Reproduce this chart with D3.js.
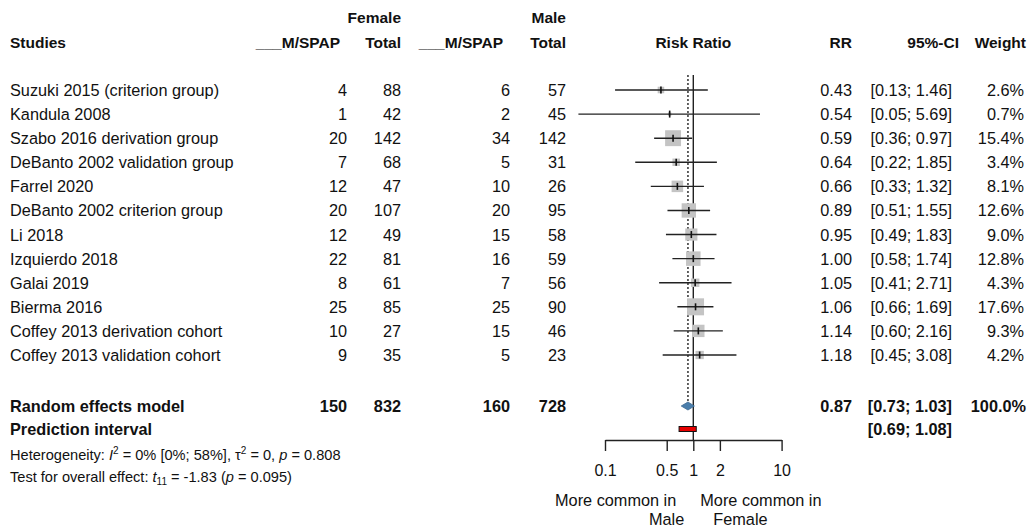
<!DOCTYPE html>
<html>
<head>
<meta charset="utf-8">
<script src="https://cdn.jsdelivr.net/npm/d3@7"></script>
<style>
  body { margin: 0; background: #fff; }
  svg text { font-family: "Liberation Sans", Arial, sans-serif; fill: #111; }
  .hdr { font-weight: bold; font-size: 15.5px; }
  .cell { font-size: 16.3px; }
  .bold { font-weight: bold; }
  .small { font-size: 14.6px; }
</style>
</head>
<body>
<svg id="chart" width="1029" height="527"></svg>
<script>
// study rows
const studies = ["Suzuki 2015 (criterion group)", "Kandula 2008", "Szabo 2016 derivation group",
  "DeBanto 2002 validation group", "Farrel 2020", "DeBanto 2002 criterion group", "Li 2018",
  "Izquierdo 2018", "Galai 2019", "Bierma 2016", "Coffey 2013 derivation cohort", "Coffey 2013 validation cohort"]
const femaleEvents = [4, 1, 20, 7, 12, 20, 12, 22, 8, 25, 10, 9]
const femaleTotal = [88, 42, 142, 68, 47, 107, 49, 81, 61, 85, 27, 35]
const maleEvents = [6, 2, 34, 5, 10, 20, 15, 16, 7, 25, 15, 5]
const maleTotal = [57, 45, 142, 31, 26, 95, 58, 59, 56, 90, 46, 23]
const rr = [0.43, 0.54, 0.59, 0.64, 0.66, 0.89, 0.95, 1.00, 1.05, 1.06, 1.14, 1.18]
const lower = [0.13, 0.05, 0.36, 0.22, 0.33, 0.51, 0.49, 0.58, 0.41, 0.66, 0.60, 0.45]
const upper = [1.46, 5.69, 0.97, 1.85, 1.32, 1.55, 1.83, 1.74, 2.71, 1.69, 2.16, 3.08]
const weight = [2.6, 0.7, 15.4, 3.4, 8.1, 12.6, 9.0, 12.8, 4.3, 17.6, 9.3, 4.2]

// pooled results
const pooled = { events: [150, 160], totals: [832, 728], rr: 0.87, lower: 0.73, upper: 1.03, weight: 100.0 }
const predInterval = [0.69, 1.08]
const tickValues = [0.1, 0.5, 1, 2, 10]

const fmt2 = d3.format(".2f")
const fmt1 = d3.format(".1f")

const svg = d3.select("#chart")

const x = d3.scaleLog().domain([0.1, 10]).range([605, 781.6])
const y = d3.scalePoint().domain(d3.range(studies.length)).range([90, 355])
const side = d3.scaleSqrt().domain([0, 17.6]).range([0, 17])

const yRE = 406, yPI = 429

// column positions
const col = { study: 10, fe: 347, ft: 401, me: 510, mt: 566, rr: 852, ci: 952, w: 1024 }

// headers
svg.append("text").attr("class", "hdr").attr("x", col.ft).attr("y", 23).attr("text-anchor", "end").text("Female")
svg.append("text").attr("class", "hdr").attr("x", col.mt).attr("y", 23).attr("text-anchor", "end").text("Male")
const hdr2 = [
  [col.study, "start", "Studies"],
  [col.fe - 7, "end", "___M/SPAP"],
  [col.ft, "end", "Total"],
  [col.me - 7, "end", "___M/SPAP"],
  [col.mt, "end", "Total"],
  [x(1), "middle", "Risk Ratio"],
  [col.rr, "end", "RR"],
  [col.ci + 7, "end", "95%-CI"],
  [col.w + 2, "end", "Weight"]
]
svg.selectAll(".h2").data(hdr2).join("text")
  .attr("class", "hdr h2")
  .attr("x", d => d[0]).attr("y", 48)
  .attr("text-anchor", d => d[1])
  .text(d => d[2])

// study table rows
const rows = svg.selectAll(".row").data(studies).join("g")
  .attr("class", "row")
  .attr("transform", (d, i) => "translate(0," + (y(i) + 6) + ")")

function cell(sel, xpos, anchor, fn) {
  sel.append("text").attr("class", "cell").attr("x", xpos).attr("text-anchor", anchor).text(fn)
}
rows.each(function (d, i) {
  const g = d3.select(this)
  cell(g, col.study, "start", () => d)
  cell(g, col.fe, "end", () => femaleEvents[i])
  cell(g, col.ft, "end", () => femaleTotal[i])
  cell(g, col.me, "end", () => maleEvents[i])
  cell(g, col.mt, "end", () => maleTotal[i])
  cell(g, col.rr, "end", () => fmt2(rr[i]))
  cell(g, col.ci, "end", () => "[" + fmt2(lower[i]) + "; " + fmt2(upper[i]) + "]")
  cell(g, col.w, "end", () => fmt1(weight[i]) + "%")
})

// summary rows
const re = svg.append("g").attr("transform", "translate(0," + (yRE + 6) + ")")
cell(re, col.study, "start", () => "Random effects model")
cell(re, col.fe, "end", () => pooled.events[0])
cell(re, col.ft, "end", () => pooled.totals[0])
cell(re, col.me, "end", () => pooled.events[1])
cell(re, col.mt, "end", () => pooled.totals[1])
cell(re, col.rr, "end", () => fmt2(pooled.rr))
cell(re, col.ci, "end", () => "[" + fmt2(pooled.lower) + "; " + fmt2(pooled.upper) + "]")
cell(re, col.w + 2, "end", () => fmt1(pooled.weight) + "%")
re.selectAll("text").classed("bold", true)

const pi = svg.append("g").attr("transform", "translate(0," + (yPI + 6) + ")")
cell(pi, col.study, "start", () => "Prediction interval")
cell(pi, col.ci, "end", () => "[" + fmt2(predInterval[0]) + "; " + fmt2(predInterval[1]) + "]")
pi.selectAll("text").classed("bold", true)

// reference lines
svg.append("line")
  .attr("x1", x(1)).attr("x2", x(1)).attr("y1", 75).attr("y2", 440)
  .attr("stroke", "#222").attr("stroke-width", 1.4)
svg.append("line")
  .attr("x1", x(pooled.rr)).attr("x2", x(pooled.rr)).attr("y1", 75).attr("y2", yRE - 4)
  .attr("stroke", "#222").attr("stroke-width", 1.4).attr("stroke-dasharray", "2,2")

// study marks
const marks = svg.selectAll(".mark").data(studies).join("g").attr("class", "mark")
marks.append("rect")
  .attr("x", (d, i) => x(rr[i]) - side(weight[i]) / 2)
  .attr("y", (d, i) => y(i) - side(weight[i]) / 2)
  .attr("width", (d, i) => side(weight[i]))
  .attr("height", (d, i) => side(weight[i]))
  .attr("fill", "#c4c4c4")
marks.append("line")
  .attr("x1", (d, i) => x(lower[i])).attr("x2", (d, i) => x(upper[i]))
  .attr("y1", (d, i) => y(i)).attr("y2", (d, i) => y(i))
  .attr("stroke", "#222").attr("stroke-width", 1.4)
marks.append("line")
  .attr("x1", (d, i) => x(rr[i])).attr("x2", (d, i) => x(rr[i]))
  .attr("y1", (d, i) => y(i) - 3.5).attr("y2", (d, i) => y(i) + 3.5)
  .attr("stroke", "#111").attr("stroke-width", 1.6)

// pooled diamond
svg.append("path")
  .attr("d", "M" + x(pooled.lower) + "," + yRE + "L" + x(pooled.rr) + "," + (yRE - 4) +
    "L" + x(pooled.upper) + "," + yRE + "L" + x(pooled.rr) + "," + (yRE + 4) + "Z")
  .attr("fill", "#4a7eab").attr("stroke", "#3d6a93").attr("stroke-width", 0.8)

// prediction interval
svg.append("rect")
  .attr("x", x(predInterval[0])).attr("y", yPI - 2.5)
  .attr("width", x(predInterval[1]) - x(predInterval[0])).attr("height", 5)
  .attr("fill", "#e60000").attr("stroke", "#111").attr("stroke-width", 1)

// axis
const axis = svg.append("g")
  .attr("transform", "translate(0,440)")
  .call(d3.axisBottom(x).tickValues(tickValues).tickFormat(d => d).tickSize(11).tickSizeOuter(0).tickPadding(14))
axis.select(".domain").attr("stroke", "#222").attr("stroke-width", 1.4)
axis.selectAll(".tick line").attr("stroke", "#222").attr("stroke-width", 1.4)
axis.selectAll(".tick text").attr("font-size", 16).attr("font-family", "Liberation Sans, Arial, sans-serif").attr("fill", "#222")

// direction labels
const lab = [
  [x(1) - 17, 506, "end", "More common in"],
  [x(1) - 9, 525, "end", "Male"],
  [x(1) + 7, 506, "start", "More common in"],
  [x(1) + 20, 525, "start", "Female"]
]
svg.selectAll(".dir").data(lab).join("text")
  .attr("class", "cell dir")
  .attr("x", d => d[0]).attr("y", d => d[1])
  .attr("text-anchor", d => d[2])
  .text(d => d[3])

// heterogeneity text
const het = svg.append("text").attr("class", "small").attr("x", col.study).attr("y", 460)
het.append("tspan").text("Heterogeneity: ")
het.append("tspan").attr("font-style", "italic").text("I")
het.append("tspan").attr("dy", -6).attr("font-size", 10).text("2")
het.append("tspan").attr("dy", 6).text(" = 0% [0%; 58%], τ")
het.append("tspan").attr("dy", -6).attr("font-size", 10).text("2")
het.append("tspan").attr("dy", 6).text(" = 0, ")
het.append("tspan").attr("font-style", "italic").text("p")
het.append("tspan").text(" = 0.808")

const test = svg.append("text").attr("class", "small").attr("x", col.study).attr("y", 482)
test.append("tspan").text("Test for overall effect: ")
test.append("tspan").attr("font-style", "italic").text("t")
test.append("tspan").attr("dy", 3).attr("font-size", 10).text("11")
test.append("tspan").attr("dy", -3).text(" = -1.83 (")
test.append("tspan").attr("font-style", "italic").text("p")
test.append("tspan").text(" = 0.095)")
</script>
</body>
</html>
